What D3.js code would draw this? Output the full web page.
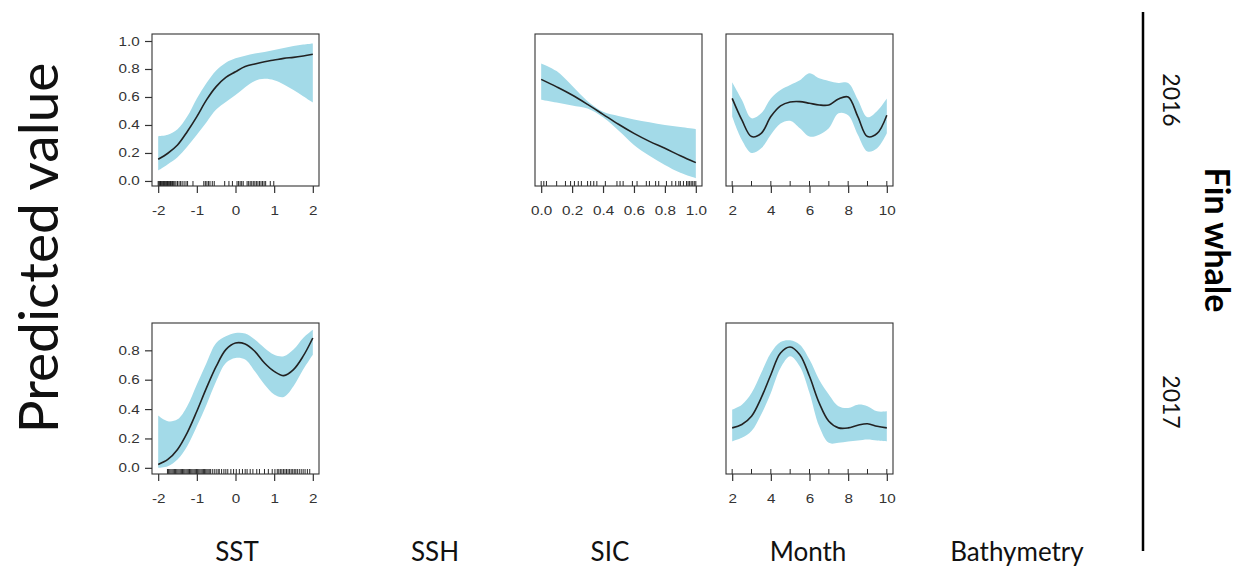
<!DOCTYPE html>
<html>
<head>
<meta charset="utf-8">
<script src="https://cdn.jsdelivr.net/npm/d3@7"></script>
<style>
  body { margin: 0; background: #fff; }
  text { font-family: Lato, "Open Sans", sans-serif; }
</style>
</head>
<body>
<script>
// chart size
var width = 1245,
    height = 570;

// covariate names along the bottom
var covariates = ['SST', 'SSH', 'SIC', 'Month', 'Bathymetry'];
var years = ['2016', '2017'];

// SST partial effect, 2016
var sstX16 = [-2, -1.75, -1.5, -1.25, -1, -0.75, -0.5, -0.25, 0, 0.25, 0.5, 0.75, 1, 1.25, 1.5, 1.75, 2];
var sstFit16 = [0.155, 0.198, 0.257, 0.352, 0.46, 0.579, 0.674, 0.74, 0.78, 0.817, 0.836, 0.852, 0.864, 0.876, 0.883, 0.893, 0.905];
var sstHi16 = [0.32, 0.33, 0.37, 0.46, 0.59, 0.70, 0.79, 0.845, 0.876, 0.895, 0.91, 0.922, 0.936, 0.95, 0.964, 0.975, 0.983];
var sstLo16 = [0.075, 0.12, 0.17, 0.245, 0.33, 0.42, 0.51, 0.565, 0.614, 0.67, 0.715, 0.73, 0.72, 0.69, 0.65, 0.605, 0.56];
var sstRug16 = [-2.0, -1.98, -1.96, -1.94, -1.92, -1.9, -1.88, -1.86, -1.84, -1.82, -1.8, -1.78, -1.76, -1.74, -1.72, -1.7,
  -1.68, -1.66, -1.63, -1.6, -1.57, -1.54, -1.5, -1.46, -1.42, -1.38, -1.33, -1.28, -1.24, -1.1, -0.82, -0.78, -0.74,
  -0.7, -0.66, -0.6, -0.55, -0.28, -0.17, -0.08, 0.04, 0.08, 0.12, 0.16, 0.2, 0.3, 0.34, 0.38, 0.42, 0.46, 0.5, 0.54,
  0.58, 0.62, 0.66, 0.7, 0.74, 0.78, 0.9, 0.99];

// SIC partial effect, 2016
var sicX16 = [0, 0.1, 0.2, 0.3, 0.4, 0.5, 0.6, 0.7, 0.8, 0.9, 1.0];
var sicFit16 = [0.726, 0.672, 0.614, 0.547, 0.476, 0.405, 0.34, 0.283, 0.233, 0.18, 0.131];
var sicHi16 = [0.84, 0.785, 0.68, 0.57, 0.495, 0.465, 0.44, 0.42, 0.40, 0.385, 0.37];
var sicLo16 = [0.58, 0.56, 0.54, 0.517, 0.455, 0.36, 0.257, 0.18, 0.114, 0.058, 0.02];
var sicRug16 = [0, 0.017, 0.034, 0.1, 0.157, 0.19, 0.215, 0.24, 0.26, 0.3, 0.32, 0.34, 0.36, 0.415, 0.49, 0.51, 0.53,
  0.59, 0.62, 0.68, 0.7, 0.74, 0.76, 0.81, 0.845, 0.87, 0.89, 0.9, 0.92, 0.94, 0.95, 0.96, 0.97, 0.98, 0.99, 1.0];

// Month partial effect, 2016
var monX16 = [2, 2.5, 3, 3.5, 4, 4.5, 5, 5.5, 6, 6.5, 7, 7.5, 8, 8.5, 9, 9.5, 10];
var monFit16 = [0.59, 0.436, 0.317, 0.34, 0.46, 0.536, 0.564, 0.567, 0.555, 0.543, 0.543, 0.586, 0.60, 0.46, 0.317, 0.34, 0.47];
var monHi16 = [0.705, 0.58, 0.448, 0.483, 0.59, 0.65, 0.686, 0.72, 0.77, 0.733, 0.714, 0.70, 0.70, 0.58, 0.455, 0.50, 0.59];
var monLo16 = [0.46, 0.293, 0.20, 0.233, 0.33, 0.41, 0.43, 0.376, 0.317, 0.33, 0.376, 0.483, 0.47, 0.33, 0.21, 0.233, 0.34];
var monRug16 = [2, 3, 4, 5, 6, 7, 8, 9, 10];

// SST partial effect, 2017
var sstX17 = [-2, -1.75, -1.5, -1.25, -1, -0.75, -0.5, -0.25, 0, 0.25, 0.5, 0.75, 1, 1.25, 1.5, 1.75, 2];
var sstFit17 = [0.023, 0.057, 0.125, 0.238, 0.385, 0.544, 0.69, 0.805, 0.85, 0.843, 0.793, 0.714, 0.657, 0.628, 0.669, 0.76, 0.884];
var sstHi17 = [0.356, 0.317, 0.33, 0.42, 0.567, 0.714, 0.85, 0.895, 0.918, 0.914, 0.873, 0.816, 0.77, 0.76, 0.805, 0.884, 0.94];
var sstLo17 = [0.0, 0.011, 0.057, 0.147, 0.283, 0.43, 0.589, 0.714, 0.748, 0.737, 0.657, 0.567, 0.5, 0.483, 0.555, 0.669, 0.77];
var sstRug17 = [-1.76, -1.73, -1.7, -1.67, -1.64, -1.61, -1.58, -1.55, -1.52, -1.49, -1.46, -1.43, -1.4, -1.37, -1.34,
  -1.31, -1.28, -1.25, -1.22, -1.19, -1.16, -1.13, -1.1, -1.07, -1.04, -1.01, -0.98, -0.95, -0.92, -0.89, -0.86, -0.83,
  -0.8, -0.77, -0.74, -0.71, -0.68, -0.65, -0.6, -0.55, -0.5, -0.45, -0.42, -0.36, -0.3, -0.25, -0.2, -0.12, -0.05,
  0.02, 0.1, 0.18, 0.25, 0.3, 0.38, 0.45, 0.55, 0.62, 0.75, 0.85, 0.95, 1.02, 1.08, 1.12, 1.16, 1.2, 1.24, 1.28, 1.32,
  1.36, 1.4, 1.44, 1.48, 1.52, 1.56, 1.6, 1.65, 1.7, 1.75, 1.8, 1.86, 1.92];

// Month partial effect, 2017
var monX17 = [2, 2.5, 3, 3.5, 4, 4.5, 5, 5.5, 6, 6.5, 7, 7.5, 8, 8.5, 9, 9.5, 10];
var monFit17 = [0.272, 0.295, 0.351, 0.476, 0.634, 0.782, 0.823, 0.77, 0.623, 0.442, 0.317, 0.272, 0.272, 0.29, 0.30, 0.283, 0.272];
var monHi17 = [0.397, 0.43, 0.51, 0.646, 0.782, 0.857, 0.868, 0.838, 0.737, 0.60, 0.50, 0.42, 0.408, 0.43, 0.42, 0.385, 0.385];
var monLo17 = [0.18, 0.204, 0.25, 0.363, 0.51, 0.68, 0.76, 0.69, 0.51, 0.283, 0.17, 0.17, 0.18, 0.186, 0.193, 0.186, 0.18];
var monRug17 = [2, 3, 4, 5, 6, 7, 8, 9, 10];

// tick values
var sstTicks = [-2, -1, 0, 1, 2];
var sicTicks = [0, 0.2, 0.4, 0.6, 0.8, 1.0];
var monTicks = [2, 4, 6, 8, 10];
var yTicks16 = [0, 0.2, 0.4, 0.6, 0.8, 1.0];
var yTicks17 = [0, 0.2, 0.4, 0.6, 0.8];

// layout of the panel grid
var colLeft = [152, 344, 535, 726, 918],
    colCenter = [237, 435, 610, 808, 1017],
    panelW = 167,
    rowTop = [34, 323],
    panelH = [152, 151],
    yDomain = [[-0.036, 1.05], [-0.042, 0.986]];

var panels = [
  { col: 0, row: 0, xs: sstX16, fit: sstFit16, hi: sstHi16, lo: sstLo16, rug: sstRug16, xdom: [-2.16, 2.16], xticks: sstTicks, fmt: String, yticks: yTicks16 },
  { col: 2, row: 0, xs: sicX16, fit: sicFit16, hi: sicHi16, lo: sicLo16, rug: sicRug16, xdom: [-0.04, 1.04], xticks: sicTicks, fmt: d3.format('.1f') },
  { col: 3, row: 0, xs: monX16, fit: monFit16, hi: monHi16, lo: monLo16, rug: monRug16, xdom: [1.68, 10.32], xticks: monTicks, fmt: String },
  { col: 0, row: 1, xs: sstX17, fit: sstFit17, hi: sstHi17, lo: sstLo17, rug: sstRug17, xdom: [-2.16, 2.16], xticks: sstTicks, fmt: String, yticks: yTicks17 },
  { col: 3, row: 1, xs: monX17, fit: monFit17, hi: monHi17, lo: monLo17, rug: monRug17, xdom: [1.68, 10.32], xticks: monTicks, fmt: String }
];

var svg = d3.select('body').append('svg')
  .attr('width', width)
  .attr('height', height);

var bandColor = '#a3dae8',
    lineColor = '#222',
    inkColor = '#333';

panels.forEach(function(p, i) {
  var x0 = colLeft[p.col],
      y0 = rowTop[p.row],
      h = panelH[p.row];

  var x = d3.scaleLinear().domain(p.xdom).range([0, panelW]);
  var y = d3.scaleLinear().domain(yDomain[p.row]).range([h, 0]);

  var g = svg.append('g').attr('transform', 'translate(' + x0 + ',' + y0 + ')');

  g.append('clipPath').attr('id', 'clip' + i)
    .append('rect').attr('width', panelW).attr('height', h);

  var pts = p.xs.map(function(v, j) { return { x: v, fit: p.fit[j], hi: p.hi[j], lo: p.lo[j] }; });

  // confidence band
  g.append('path')
    .datum(pts)
    .attr('clip-path', 'url(#clip' + i + ')')
    .attr('fill', bandColor)
    .attr('d', d3.area()
      .curve(d3.curveCatmullRom)
      .x(function(d) { return x(d.x); })
      .y0(function(d) { return y(d.lo); })
      .y1(function(d) { return y(d.hi); }));

  // fitted smooth
  g.append('path')
    .datum(pts)
    .attr('fill', 'none')
    .attr('stroke', lineColor)
    .attr('stroke-width', 1.6)
    .attr('d', d3.line()
      .curve(d3.curveCatmullRom)
      .x(function(d) { return x(d.x); })
      .y(function(d) { return y(d.fit); }));

  // rug of observations
  g.selectAll('.rug')
    .data(p.rug)
    .enter().append('line')
    .attr('x1', function(d) { return x(d); })
    .attr('x2', function(d) { return x(d); })
    .attr('y1', h)
    .attr('y2', h - 5)
    .attr('stroke', '#111')
    .attr('stroke-width', 0.9);

  // frame
  g.append('rect')
    .attr('width', panelW)
    .attr('height', h)
    .attr('fill', 'none')
    .attr('stroke', inkColor)
    .attr('stroke-width', 1.1);

  // x axis
  var xa = g.append('g')
    .attr('transform', 'translate(0,' + h + ')')
    .call(d3.axisBottom(x).tickValues(p.xticks).tickFormat(p.fmt).tickSize(7).tickSizeOuter(0).tickPadding(13));
  xa.select('.domain').remove();

  // y axis only on the first column
  if (p.yticks) {
    var ya = g.append('g')
      .call(d3.axisLeft(y).tickValues(p.yticks).tickFormat(d3.format('.1f')).tickSize(7).tickSizeOuter(0).tickPadding(3));
    ya.select('.domain').remove();
  }

  g.selectAll('.tick line').attr('stroke', inkColor).attr('stroke-width', 1.2);
  g.selectAll('.tick text')
    .attr('fill', '#333')
    .style('font-family', '"Liberation Sans", Arial, sans-serif')
    .style('font-size', '12.5px')
    .attr('transform', 'scale(1.22,1)');
});

// y axis title
svg.append('text')
  .attr('transform', 'translate(58,248) rotate(-90)')
  .attr('text-anchor', 'middle')
  .attr('fill', '#111')
  .style('font-size', '55px')
  .text('Predicted value');

// covariate labels
svg.selectAll('.cov')
  .data(covariates)
  .enter().append('text')
  .attr('x', function(d, i) { return colCenter[i]; })
  .attr('y', 561)
  .attr('text-anchor', 'middle')
  .attr('fill', '#111')
  .style('font-size', '26px')
  .text(function(d) { return d; });

// right hand strip
svg.append('line')
  .attr('x1', 1143).attr('x2', 1143)
  .attr('y1', 12).attr('y2', 551)
  .attr('stroke', '#000')
  .attr('stroke-width', 2.5);

var yearCenter = [100, 402];
years.forEach(function(d, i) {
  svg.append('text')
    .attr('transform', 'translate(1163,' + yearCenter[i] + ') rotate(90)')
    .attr('text-anchor', 'middle')
    .attr('fill', '#111')
    .style('font-size', '23px')
    .text(d);
});

svg.append('text')
  .attr('transform', 'translate(1205,240) rotate(90)')
  .attr('text-anchor', 'middle')
  .attr('fill', '#000')
  .style('font-size', '34px')
  .style('font-weight', 'bold')
  .text('Fin whale');
</script>
</body>
</html>
